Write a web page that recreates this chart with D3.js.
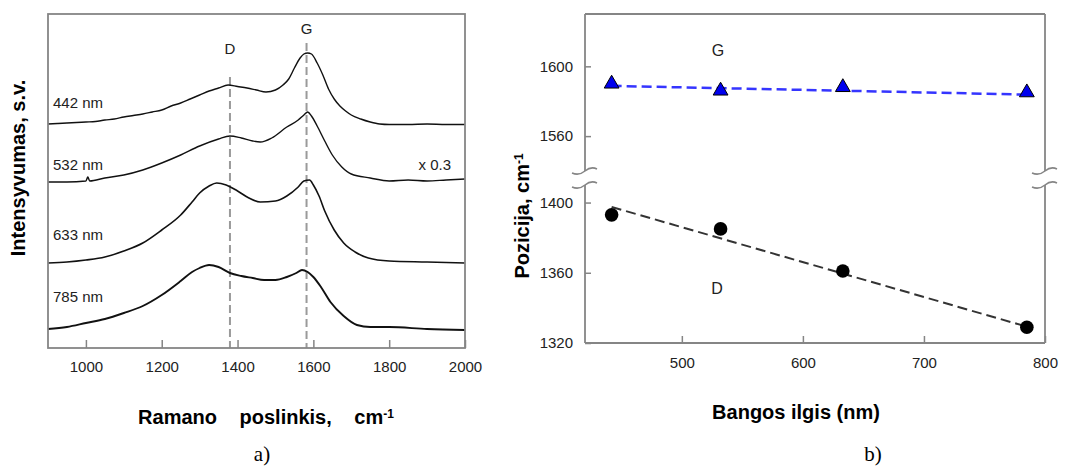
<!DOCTYPE html>
<html>
<head>
<meta charset="utf-8">
<script src="https://cdn.jsdelivr.net/npm/d3@7"></script>
<style>
  body { margin: 0; background: #fff; }
  svg { font-family: 'Liberation Sans', Arial, sans-serif; }
</style>
</head>
<body>
<svg id="chart" width="1072" height="466"></svg>
<script>
// --- panel a) Raman spectra (intensity in arbitrary units, curves stacked) ---
const ramanTicks = [1000, 1200, 1400, 1600, 1800, 2000];
const spectraLabels = ['442 nm', '532 nm', '633 nm', '785 nm'];
const spectrum442 = [[900,224],[925,224.5],[950,225],[975,225.5],[1000,226],[1025,226.5],[1050,228],[1075,229],[1100,231],[1125,232.5],[1150,234],[1175,236],[1200,238],[1225,242],[1250,245],[1275,249],[1300,253],[1325,257],[1350,260],[1375,263],[1400,261.5],[1425,260],[1450,258],[1475,256],[1500,258],[1520,263],[1535,269],[1550,280],[1565,290],[1575,294],[1585,295],[1595,294],[1610,285],[1625,273],[1640,259],[1655,249],[1670,242],[1685,237],[1700,233],[1725,229],[1750,226],[1775,224],[1800,223.5],[1850,223.5],[1900,224],[1950,223.5],[2000,223.5]];
const spectrum532 = [[900,166],[950,166],[1000,167],[1005,171],[1010,167],[1050,170],[1100,173],[1150,178],[1200,185],[1250,193],[1300,202],[1350,209],[1380,212],[1410,210],[1440,207],[1460,206],[1490,210],[1530,221],[1560,228],[1575,233],[1585,236],[1595,232],[1610,222],[1630,207],[1650,193],[1675,181],[1700,174],[1750,170],[1800,167],[1850,168],[1900,167],[1950,168],[2000,169]];
const spectrum633 = [[900,85],[950,86],[1000,88],[1050,91],[1100,97],[1150,105],[1200,118],[1250,133],[1280,146],[1300,155],[1325,162],[1345,165],[1370,163],[1400,157],[1430,150],[1460,146],[1500,147],[1530,152],[1560,161],[1575,167],[1590,168],[1600,163],[1615,152],[1630,137],[1655,118],[1680,105],[1710,96],[1745,90],[1800,87],[1900,86],[2000,85]];
const spectrum785 = [[900,19],[950,21],[1000,25],[1050,29],[1100,35],[1150,42],[1200,53],[1250,67],[1280,76],[1300,80],[1325,83],[1350,81],[1380,75],[1410,72],[1440,70],[1470,68],[1500,68],[1530,71],[1555,75],[1570,78],[1585,76],[1600,71],[1620,61],[1645,46],[1680,32],[1715,23],[1750,21],[1800,21],[1900,19],[2000,18]];
const peakD = 1380;
const peakG = 1582;

// --- panel b) peak positions vs excitation wavelength ---
const wavelengths = [442, 532, 633, 785];
const posG = [1590, 1586, 1588, 1585];
const posD = [1393, 1385, 1361, 1329];
const fitEnds = [442, 785];
const fitG = [1588.8, 1583.8];
const fitD = [1397.5, 1329.3];
const waveTicks = [500, 600, 700, 800];
const upperTicks = [1560, 1600];
const lowerTicks = [1320, 1360, 1400];

const svg = d3.select('#chart');
const frameColor = '#858585';
const textColor = '#222';

function styleAxis(g, size) {
  g.select('.domain').remove();
  g.selectAll('.tick line').attr('stroke', frameColor).attr('stroke-width', 1.5);
  g.selectAll('.tick text')
    .attr('fill', textColor)
    .style('font-size', size + 'px')
    .style('font-family', "'Liberation Sans', Arial, sans-serif");
}

// ================= panel a =================
const xA = d3.scaleLinear().domain([900, 2000]).range([48, 465]);
const yA = d3.scaleLinear().domain([0, 334]).range([348, 14]);

const panelA = svg.append('g').attr('id', 'panelA');

const xAxisA = d3.axisBottom(xA)
  .tickValues(ramanTicks)
  .tickFormat(d3.format('d'))
  .tickSizeInner(-8)
  .tickSizeOuter(0)
  .tickPadding(13);

panelA.append('g')
  .attr('transform', `translate(0,${yA(0)})`)
  .call(xAxisA)
  .call((g) => styleAxis(g, 15));

// peak guide lines
[[peakD, 77], [peakG, 43]].forEach(([r, top]) => {
  panelA.append('line')
    .attr('x1', xA(r)).attr('x2', xA(r))
    .attr('y1', top).attr('y2', yA(0))
    .attr('stroke', '#9a9a9a')
    .attr('stroke-width', 2)
    .attr('stroke-dasharray', '8,4');
});

const line = d3.line()
  .x((d) => xA(d[0]))
  .y((d) => yA(d[1]))
  .curve(d3.curveMonotoneX);

const spectra = [spectrum442, spectrum532, spectrum633, spectrum785];
const widths = [1.4, 1.4, 1.6, 1.9];
spectra.forEach((s, i) => {
  panelA.append('path')
    .datum(s)
    .attr('fill', 'none')
    .attr('stroke', '#111')
    .attr('stroke-width', widths[i])
    .attr('stroke-linejoin', 'round')
    .attr('d', line);
});

const labelLevels = [245, 183, 113, 51];
spectraLabels.forEach((t, i) => {
  panelA.append('text')
    .attr('x', 53)
    .attr('y', yA(labelLevels[i]))
    .attr('dy', '0.35em')
    .attr('fill', textColor)
    .style('font-size', '15px')
    .text(t);
});

panelA.append('text')
  .attr('x', 451).attr('y', yA(183)).attr('dy', '0.35em')
  .attr('text-anchor', 'end')
  .attr('fill', textColor)
  .style('font-size', '15px')
  .text('x 0.3');

panelA.append('text')
  .attr('x', xA(peakD)).attr('y', 49).attr('dy', '0.35em')
  .attr('text-anchor', 'middle').attr('fill', textColor)
  .style('font-size', '15px').text('D');
panelA.append('text')
  .attr('x', xA(peakG)).attr('y', 29).attr('dy', '0.35em')
  .attr('text-anchor', 'middle').attr('fill', textColor)
  .style('font-size', '15px').text('G');

panelA.append('rect')
  .attr('x', xA(900)).attr('y', yA(334))
  .attr('width', xA(2000) - xA(900))
  .attr('height', yA(0) - yA(334))
  .attr('fill', 'none')
  .attr('stroke', frameColor)
  .attr('stroke-width', 1.8);

const xLabelA = panelA.append('text')
  .attr('x', 266).attr('y', 417).attr('dy', '0.35em')
  .attr('text-anchor', 'middle')
  .attr('fill', '#000')
  .attr('word-spacing', '17px')
  .style('font-size', '20px')
  .style('font-weight', 'bold');
xLabelA.append('tspan').text('Ramano poslinkis, cm');
xLabelA.append('tspan').attr('dy', '-0.5em').style('font-size', '12px').attr('word-spacing', '0px').text('-1');

panelA.append('text')
  .attr('transform', 'translate(18,168) rotate(-90)')
  .attr('dy', '0.35em')
  .attr('text-anchor', 'middle')
  .attr('fill', '#000')
  .style('font-size', '20px')
  .style('font-weight', 'bold')
  .text('Intensyvumas, s.v.');

panelA.append('text')
  .attr('x', 262).attr('y', 454).attr('dy', '0.35em')
  .attr('text-anchor', 'middle')
  .attr('fill', '#000')
  .style('font-family', "'Liberation Serif', 'Times New Roman', serif")
  .style('font-size', '21px')
  .text('a)');

// ================= panel b =================
const xB = d3.scaleLinear().domain([420, 800]).range([585, 1045]);
const yUp = d3.scaleLinear().domain([1540, 1630]).range([171, 14]);
const yLo = d3.scaleLinear().domain([1320, 1410]).range([343, 185]);

const panelB = svg.append('g').attr('id', 'panelB');

panelB.append('g')
  .attr('transform', `translate(0,${yLo(1320)})`)
  .call(d3.axisBottom(xB).tickValues(waveTicks).tickFormat(d3.format('d'))
    .tickSizeInner(-7).tickSizeOuter(0).tickPadding(14))
  .call((g) => styleAxis(g, 15));

panelB.append('g')
  .attr('transform', `translate(${xB(420)},0)`)
  .call(d3.axisLeft(yUp).tickValues(upperTicks).tickFormat(d3.format('d'))
    .tickSizeInner(-6).tickSizeOuter(0).tickPadding(12))
  .call((g) => styleAxis(g, 15));

panelB.append('g')
  .attr('transform', `translate(${xB(420)},0)`)
  .call(d3.axisLeft(yLo).tickValues(lowerTicks).tickFormat(d3.format('d'))
    .tickSizeInner(-6).tickSizeOuter(0).tickPadding(12))
  .call((g) => styleAxis(g, 15));

// frame with broken vertical sides
const frame = panelB.append('g')
  .attr('fill', 'none')
  .attr('stroke', frameColor)
  .attr('stroke-width', 1.8);
const xl = xB(420), xr = xB(800);
frame.append('line').attr('x1', xl).attr('x2', xr).attr('y1', yUp(1630)).attr('y2', yUp(1630));
frame.append('line').attr('x1', xl).attr('x2', xr).attr('y1', yLo(1320)).attr('y2', yLo(1320));
[xl, xr].forEach((x) => {
  frame.append('line').attr('x1', x).attr('x2', x).attr('y1', yUp(1630)).attr('y2', yUp(1540));
  frame.append('line').attr('x1', x).attr('x2', x).attr('y1', yLo(1410)).attr('y2', yLo(1320));
  [yUp(1540), yLo(1410)].forEach((y) => {
    frame.append('path')
      .attr('stroke-width', 1.5)
      .attr('d', `M${x - 13},${y + 2} Q${x - 6},${y + 5} ${x},${y} T${x + 12},${y - 2}`);
  });
});

// fit lines
panelB.append('line')
  .attr('x1', xB(fitEnds[0])).attr('y1', yUp(fitG[0]))
  .attr('x2', xB(fitEnds[1])).attr('y2', yUp(fitG[1]))
  .attr('stroke', '#3535ff')
  .attr('stroke-width', 2.5)
  .attr('stroke-dasharray', '10,5');
panelB.append('line')
  .attr('x1', xB(fitEnds[0])).attr('y1', yLo(fitD[0]))
  .attr('x2', xB(fitEnds[1])).attr('y2', yLo(fitD[1]))
  .attr('stroke', '#333')
  .attr('stroke-width', 2)
  .attr('stroke-dasharray', '10,5');

const tri = d3.symbol().type(d3.symbolTriangle).size(95);
panelB.selectAll('.g-point')
  .data(wavelengths)
  .enter()
  .append('path')
  .attr('class', 'g-point')
  .attr('transform', (d, i) => `translate(${xB(d)},${yUp(posG[i])})`)
  .attr('d', tri)
  .attr('fill', '#0000ee')
  .attr('stroke', '#000')
  .attr('stroke-width', 1);

panelB.selectAll('.d-point')
  .data(wavelengths)
  .enter()
  .append('circle')
  .attr('class', 'd-point')
  .attr('cx', (d) => xB(d))
  .attr('cy', (d, i) => yLo(posD[i]))
  .attr('r', 6.8)
  .attr('fill', '#000');

panelB.append('text')
  .attr('x', 718).attr('y', 50).attr('dy', '0.35em')
  .attr('text-anchor', 'middle').attr('fill', textColor)
  .style('font-size', '16px').text('G');
panelB.append('text')
  .attr('x', 717).attr('y', 288).attr('dy', '0.35em')
  .attr('text-anchor', 'middle').attr('fill', textColor)
  .style('font-size', '16px').text('D');

panelB.append('text')
  .attr('x', 796).attr('y', 412).attr('dy', '0.35em')
  .attr('text-anchor', 'middle')
  .attr('fill', '#000')
  .style('font-size', '20px')
  .style('font-weight', 'bold')
  .text('Bangos ilgis (nm)');

const yLabelB = panelB.append('text')
  .attr('transform', 'translate(522,216) rotate(-90)')
  .attr('dy', '0.35em')
  .attr('text-anchor', 'middle')
  .attr('fill', '#000')
  .style('font-size', '20px')
  .style('font-weight', 'bold');
yLabelB.append('tspan').text('Pozicija, cm');
yLabelB.append('tspan').attr('dy', '-0.5em').style('font-size', '12px').text('-1');

panelB.append('text')
  .attr('x', 873).attr('y', 454).attr('dy', '0.35em')
  .attr('text-anchor', 'middle')
  .attr('fill', '#000')
  .style('font-family', "'Liberation Serif', 'Times New Roman', serif")
  .style('font-size', '21px')
  .text('b)');
</script>
</body>
</html>
